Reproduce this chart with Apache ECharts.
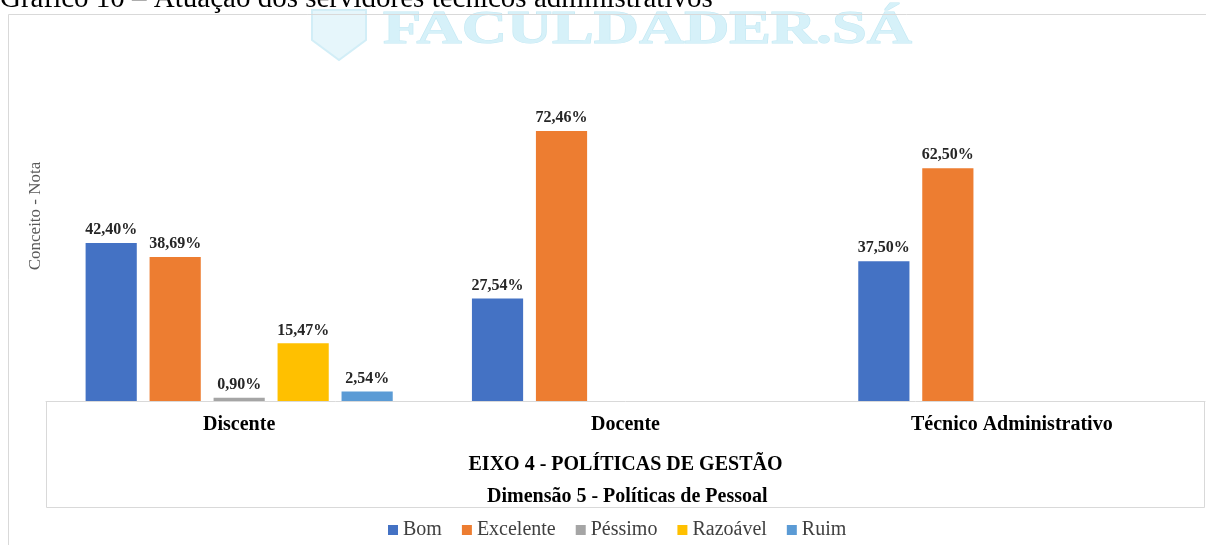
<!DOCTYPE html>
<html>
<head>
<meta charset="utf-8">
<script src="https://cdn.jsdelivr.net/npm/echarts@6/dist/echarts.min.js"></script>
<style>
  html, body { margin: 0; padding: 0; background: #fff; }
  #chart { width: 1206px; height: 545px; }
</style>
</head>
<body>
<div id="chart"></div>
<script>
// dados
const categorias = ['Discente', 'Docente', 'Técnico Administrativo']
const bom = [42.40, 27.54, 37.50]
const excelente = [38.69, 72.46, 62.50]
const pessimo = [0.90, null, null]
const razoavel = [15.47, null, null]
const ruim = [2.54, null, null]

const nomes = ['Bom', 'Excelente', 'Péssimo', 'Razoável', 'Ruim']
const cores = ['#4472C4', '#ED7D31', '#A5A5A5', '#FFC000', '#5B9BD5']
const valores = [bom, excelente, pessimo, razoavel, ruim]

const fonte = '"Liberation Serif", "DejaVu Serif", serif'
const cinza = '#d9d9d9'

let chart = echarts.init(document.getElementById('chart'), null, { renderer: 'canvas' })

function fmt(v) {
  return v.toFixed(2).replace('.', ',') + '%'
}

let series = nomes.map((nome, i) => {
  return {
    name: nome,
    type: 'bar',
    data: valores[i],
    barGap: '25%',
    barCategoryGap: '20.5%',
    itemStyle: { color: cores[i] },
    label: {
      show: true,
      position: 'top',
      distance: 5,
      fontFamily: fonte,
      fontWeight: 'bold',
      fontSize: 16,
      color: '#262626',
      formatter: p => fmt(p.value)
    }
  }
})

let option = {
  backgroundColor: '#ffffff',
  animation: false,
  title: [{
    text: 'Dimensão 5 - Políticas de Pessoal',
    left: 487,
    top: 487,
    padding: 0,
    textStyle: { fontFamily: fonte, fontWeight: 'bold', fontSize: 20, color: '#000' }
  }],
  legend: {
    data: nomes,
    bottom: 5,
    left: 388,
    padding: 0,
    icon: 'rect',
    itemWidth: 10,
    itemHeight: 10,
    itemGap: 20,
    textStyle: { fontFamily: fonte, fontSize: 20, color: '#404040' }
  },
  grid: { left: 46, right: 1, top: 103, bottom: 144 },
  xAxis: {
    type: 'category',
    data: categorias,
    name: 'EIXO 4 - POLÍTICAS DE GESTÃO',
    nameLocation: 'middle',
    nameGap: 54,
    nameTextStyle: { fontFamily: fonte, fontWeight: 'bold', fontSize: 20, color: '#000' },
    axisLine: { show: true, lineStyle: { color: cinza, width: 1 } },
    axisTick: { show: false },
    axisLabel: { margin: 14, fontFamily: fonte, fontWeight: 'bold', fontSize: 20, color: '#000' }
  },
  yAxis: {
    type: 'value',
    min: 0,
    max: 80,
    show: true,
    axisLine: { show: false },
    axisTick: { show: false },
    axisLabel: { show: false },
    splitLine: { show: false }
  },
  graphic: [
    // titulo cortado no topo
    {
      type: 'text', left: 0, top: -15, z: 1,
      style: { text: 'Gráfico 10 – Atuação dos servidores técnicos administrativos', font: '29px ' + fonte, fill: '#000' }
    },
    // marca d'agua
    {
      type: 'polygon', z: 0,
      shape: { points: [[312, 10], [366, 10], [366, 40], [339, 60], [312, 40]] },
      style: { fill: '#e6f6fb', stroke: '#d2eef7', lineWidth: 2 }
    },
    {
      type: 'text', x: 383, y: 8, scaleX: 1.36, z: 0,
      style: { text: 'FACULDADER.SÁ', font: 'bold 46px ' + fonte, fill: '#d6f1f9', stroke: '#c3e8f3', lineWidth: 1 }
    },
    // moldura externa
    { type: 'line', shape: { x1: 8.5, y1: 14.5, x2: 1206, y2: 14.5 }, style: { stroke: cinza, lineWidth: 1 } },
    { type: 'line', shape: { x1: 8.5, y1: 14.5, x2: 8.5, y2: 545 }, style: { stroke: cinza, lineWidth: 1 } },
    // caixa do eixo
    { type: 'line', shape: { x1: 46.5, y1: 401, x2: 46.5, y2: 507.5 }, style: { stroke: cinza, lineWidth: 1 } },
    { type: 'line', shape: { x1: 1204.5, y1: 401, x2: 1204.5, y2: 507.5 }, style: { stroke: cinza, lineWidth: 1 } },
    { type: 'line', shape: { x1: 46.5, y1: 507.5, x2: 1204.5, y2: 507.5 }, style: { stroke: cinza, lineWidth: 1 } },
    // titulo do eixo y
    {
      type: 'text', x: 36, y: 216, rotation: Math.PI / 2,
      style: { text: 'Conceito - Nota', font: '17px ' + fonte, fill: '#595959', align: 'center', verticalAlign: 'middle' }
    }
  ],
  series: series
}

chart.setOption(option)
</script>
</body>
</html>
